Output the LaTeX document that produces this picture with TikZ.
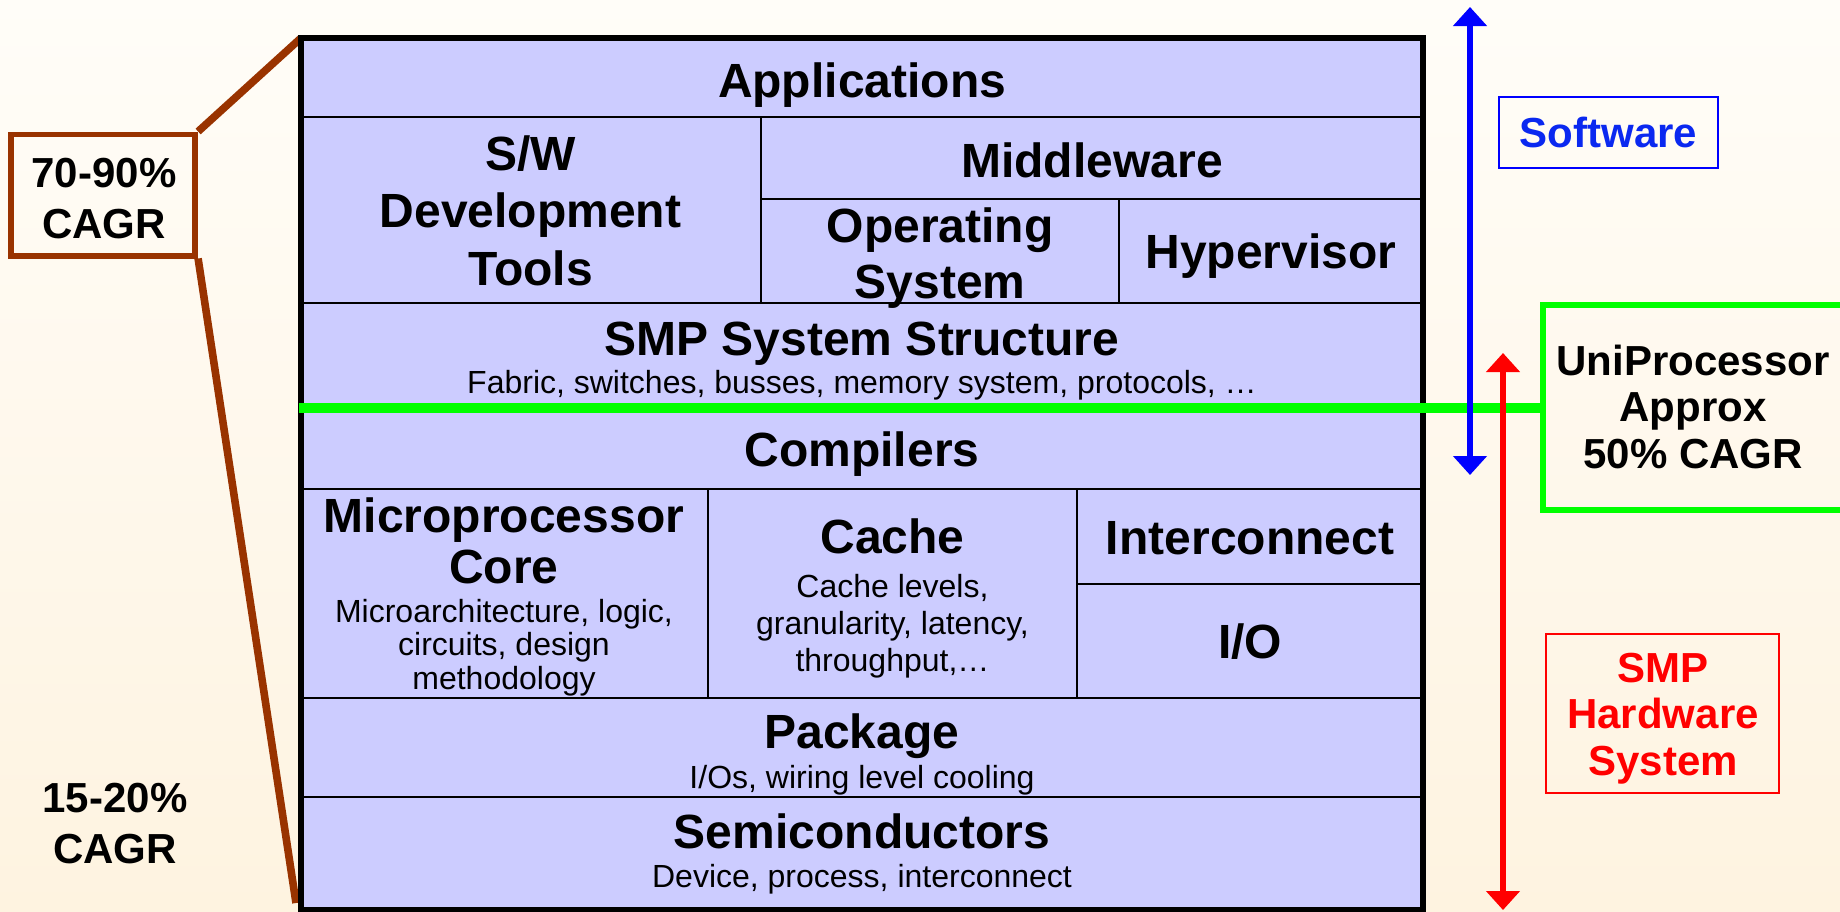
\documentclass[tikz,border=0pt]{standalone}
\usepackage{fontspec}
\setmainfont{Liberation Sans}
\usetikzlibrary{arrows.meta}
\definecolor{cellfill}{RGB}{204,204,255}
\definecolor{brownline}{RGB}{153,51,0}
\definecolor{greenline}{RGB}{0,255,0}
\definecolor{bluearrow}{RGB}{0,0,255}
\definecolor{bluetext}{RGB}{10,40,240}
\definecolor{redc}{RGB}{255,0,0}
\definecolor{bgtop}{RGB}{255,253,248}
\definecolor{bgbot}{RGB}{254,243,224}
\newcommand{\mlines}[1]{\begin{tabular}[t]{@{}c@{}}#1\end{tabular}}
\begin{document}
\begin{tikzpicture}[x=0.5pt,y=-0.5pt,
  title/.style={font=\bfseries\fontsize{24}{28.5}\selectfont,anchor=base,inner sep=0pt},
  subtext/.style={font=\fontsize{16}{18.5}\selectfont,anchor=base,inner sep=0pt},
  sidetext/.style={font=\bfseries\fontsize{21}{23}\selectfont,anchor=base,inner sep=0pt},
  cellbox/.style={draw=black,line width=1.3pt,fill=cellfill},
  brownbar/.style={draw=brownline,line width=2.9pt},
  leader/.style={draw=brownline,line width=3.8pt},
  dblarrow/.style={line width=2.6pt,{Triangle[width=16.5pt,length=9.5pt]}-{Triangle[width=16.5pt,length=9.5pt]}}
]
% background
\shade[top color=bgtop,bottom color=bgbot] (0,0) rectangle (1840,911);
\useasboundingbox (0,0) rectangle (1840,911);

% left CAGR box and leader lines
\node[brownbar,rectangle,minimum width=92.2pt,minimum height=60.6pt,inner sep=0pt] (cagrbox) at (103,195) {};
\coordinate (stacktl) at (301,38);
\coordinate (stackbl) at (296,903);
\draw[leader] (cagrbox.north east) -- (stacktl);
\draw[leader] (cagrbox.south east) -- (stackbl);
\node[sidetext,font=\bfseries\fontsize{21}{25.5}\selectfont] (cagrhi) at (104,187) {\mlines{70-90\%\\CAGR}};
\node[sidetext,font=\bfseries\fontsize{21}{25.5}\selectfont] (cagrlo) at (115,812) {\mlines{15-20\%\\CAGR}};

% layered stack cells
\draw[cellbox] (301,38) rectangle (1423,117);
\draw[cellbox] (301,117) rectangle (761,303);
\draw[cellbox] (761,117) rectangle (1423,199);
\draw[cellbox] (761,199) rectangle (1119,303);
\draw[cellbox] (1119,199) rectangle (1423,303);
\draw[cellbox] (301,303) rectangle (1423,408);
\draw[cellbox] (301,408) rectangle (1423,489);
\draw[cellbox] (301,489) rectangle (708,698);
\draw[cellbox] (708,489) rectangle (1077,698);
\draw[cellbox] (1077,489) rectangle (1423,584);
\draw[cellbox] (1077,584) rectangle (1423,698);
\draw[cellbox] (301,698) rectangle (1423,797);
\draw[cellbox] (301,797) rectangle (1423,910);
\draw[black,line width=2.8pt] (301,38) rectangle (1423,910);

% stack texts
\node[title] (apps) at (862,97) {Applications};
\node[title,font=\bfseries\fontsize{24}{28.75}\selectfont] (swtools) at (530.5,170) {\mlines{S/W\\Development\\Tools}};
\node[title] (middleware) at (1092,177) {Middleware};
\node[title,font=\bfseries\fontsize{24}{28}\selectfont] (os) at (940,242) {\mlines{Operating\\System}};
\node[title] (hyp) at (1271,268) {Hypervisor};
\node[title] (smp) at (862,355) {SMP System Structure};
\node[subtext] (smpsub) at (862,393) {Fabric, switches, busses, memory system, protocols, …};
\node[title] (compilers) at (862,466) {Compilers};
\node[title,font=\bfseries\fontsize{24}{25.5}\selectfont] (micro) at (504,532) {\mlines{Microprocessor\\Core}};
\node[subtext,font=\fontsize{16}{16.75}\selectfont] (microsub) at (504,622) {\mlines{Microarchitecture, logic,\\circuits, design\\methodology}};
\node[title] (cache) at (892.5,553) {Cache};
\node[subtext,font=\fontsize{16}{18.5}\selectfont] (cachesub) at (892.5,597) {\mlines{Cache levels,\\granularity, latency,\\throughput,…}};
\node[title] (interconnect) at (1250,554) {Interconnect};
\node[title] (io) at (1250,658) {I/O};
\node[title] (package) at (862,748) {Package};
\node[subtext] (packagesub) at (862,788) {I/Os, wiring level cooling};
\node[title] (semis) at (862,848) {Semiconductors};
\node[subtext] (semisub) at (862,887) {Device, process, interconnect};

% right side
\node[draw=greenline,line width=3pt,rectangle,minimum width=158.5pt,minimum height=102.75pt,inner sep=0pt] (unibox) at (1701.5,407.25) {};
\coordinate (greenstart) at (299,408);
\draw[greenline,line width=5pt] (greenstart) -- (greenstart -| unibox.west);
\node[sidetext,font=\bfseries\fontsize{21}{23.25}\selectfont] (unitext) at (1693,375) {\mlines{UniProcessor\\Approx\\50\% CAGR}};

\coordinate (swtop) at (1470,7);
\coordinate (swbot) at (1470,475);
\draw[bluearrow,dblarrow] (swtop) -- (swbot);
\coordinate (hwtop) at (1503,353);
\coordinate (hwbot) at (1503,910);
\draw[redc,dblarrow] (hwtop) -- (hwbot);

\node[draw=bluearrow,line width=1pt,rectangle,minimum width=109.5pt,minimum height=35.5pt,inner sep=0pt,text=bluetext,font=\bfseries\fontsize{21}{23}\selectfont] (software) at (1608.5,132.5) {Software};

\node[draw=redc,line width=1pt,rectangle,minimum width=116.5pt,minimum height=79.5pt,inner sep=0pt] (hwbox) at (1662.5,713.5) {};
\node[sidetext,text=redc,font=\bfseries\fontsize{21}{23.25}\selectfont] (hwtext) at (1663,682) {\mlines{SMP\\Hardware\\System}};
\end{tikzpicture}
\end{document}
